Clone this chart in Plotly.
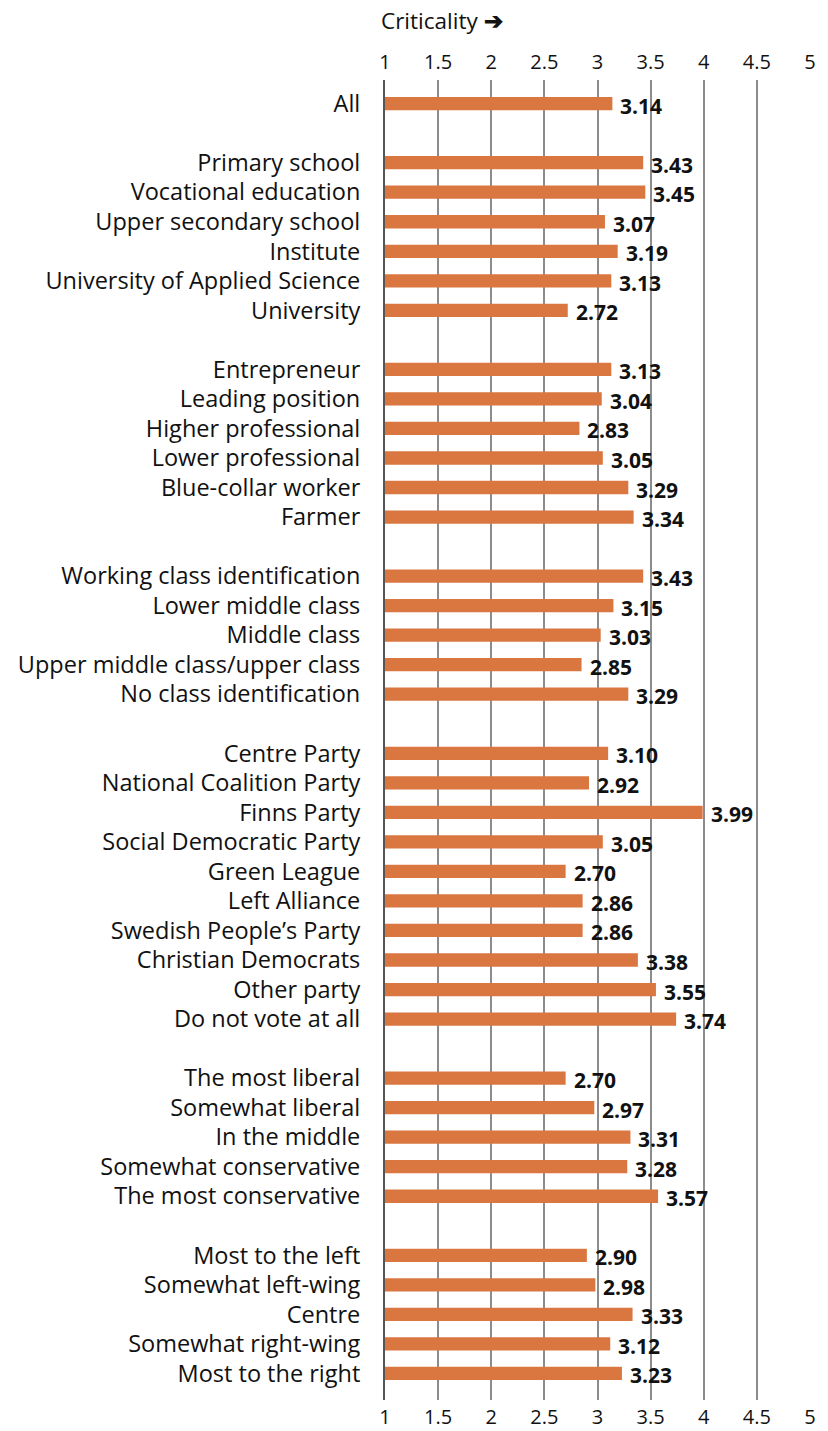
import plotly.graph_objects as go

groups = [
    ["All"],
    ["Primary school", "Vocational education", "Upper secondary school", "Institute",
     "University of Applied Science", "University"],
    ["Entrepreneur", "Leading position", "Higher professional", "Lower professional",
     "Blue-collar worker", "Farmer"],
    ["Working class identification", "Lower middle class", "Middle class",
     "Upper middle class/upper class", "No class identification"],
    ["Centre Party", "National Coalition Party", "Finns Party", "Social Democratic Party",
     "Green League", "Left Alliance", "Swedish People\u2019s Party", "Christian Democrats",
     "Other party", "Do not vote at all"],
    ["The most liberal", "Somewhat liberal", "In the middle", "Somewhat conservative",
     "The most conservative"],
    ["Most to the left", "Somewhat left-wing", "Centre", "Somewhat right-wing",
     "Most to the right"],
]
group_values = [
    [3.14],
    [3.43, 3.45, 3.07, 3.19, 3.13, 2.72],
    [3.13, 3.04, 2.83, 3.05, 3.29, 3.34],
    [3.43, 3.15, 3.03, 2.85, 3.29],
    [3.10, 2.92, 3.99, 3.05, 2.70, 2.86, 2.86, 3.38, 3.55, 3.74],
    [2.70, 2.97, 3.31, 3.28, 3.57],
    [2.90, 2.98, 3.33, 3.12, 3.23],
]
x_ticks = [1, 1.5, 2, 2.5, 3, 3.5, 4, 4.5, 5]
x_tick_labels = ["1", "1.5", "2", "2.5", "3", "3.5", "4", "4.5", "5"]

labels, values, ypos = [], [], []
row = 0
for gi, (g, v) in enumerate(zip(groups, group_values)):
    if gi > 0:
        row += 1
    for lab, val in zip(g, v):
        labels.append(lab)
        values.append(val)
        ypos.append(row)
        row += 1
n_rows = row

FONT = "'Open Sans', 'Noto Sans', sans-serif"
BAR = "#DA7740"

W, H = 828, 1431
ML, MR, MT, MB = 385, 18, 80, 31
plot_w = W - ML - MR
plot_h = H - MT - MB

fig = go.Figure()
fig.add_trace(go.Bar(
    x=[v - 1 for v in values], base=1, y=ypos, orientation="h",
    marker=dict(color=BAR, line=dict(width=0)), width=0.45,
    hoverinfo="skip", showlegend=False,
))
fig.add_trace(go.Scatter(x=[1, 5], y=[0, 0], xaxis="x2", mode="markers",
                         marker=dict(opacity=0), showlegend=False, hoverinfo="skip"))

annotations = []
for v, y in zip(values, ypos):
    annotations.append(dict(x=v, y=y, text=f"<b>{v:.2f}</b>", showarrow=False,
                            xanchor="left", xshift=6, yshift=-2,
                            font=dict(family=FONT, size=21, color="#111111")))

annotations.append(dict(x=(379 - ML) / plot_w, y=(H - MB - 20) / plot_h,
                        xref="paper", yref="paper", text="Criticality <b>\u2794</b>",
                        xanchor="left", yanchor="middle", showarrow=False,
                        font=dict(family=FONT, size=22.5, color="#111111")))

fig.update_layout(
    width=W, height=H,
    margin=dict(l=ML, r=MR, t=MT, b=MB, autoexpand=False),
    paper_bgcolor="white", plot_bgcolor="white",
    font=dict(family=FONT, size=20, color="#111111"),
    annotations=annotations,
    xaxis=dict(range=[1, 5], tickvals=x_ticks, ticktext=x_tick_labels,
               showgrid=True, gridcolor="#8c8c8c", gridwidth=1.5, automargin=False,
               zeroline=False, showline=False, ticks="", side="bottom",
               tickfont=dict(size=20), ticklabelstandoff=3),
    xaxis2=dict(range=[1, 5], tickvals=x_ticks, ticktext=x_tick_labels, automargin=False,
                overlaying="x", side="top", showgrid=False, zeroline=False,
                showline=False, ticks="", tickfont=dict(size=20), ticklabelstandoff=6),
    yaxis=dict(range=[n_rows - 1 + 0.9, -0.8], tickvals=ypos, ticktext=labels,
               automargin=False,
               showgrid=False, zeroline=False, showline=True, linecolor="#555555",
               linewidth=2, ticks="", tickfont=dict(size=23.5), ticklabelstandoff=18),
)

fig.write_html("out.html", config={"displayModeBar": False},
               post_script="document.body.style.margin='0';document.body.style.overflow='hidden';")
